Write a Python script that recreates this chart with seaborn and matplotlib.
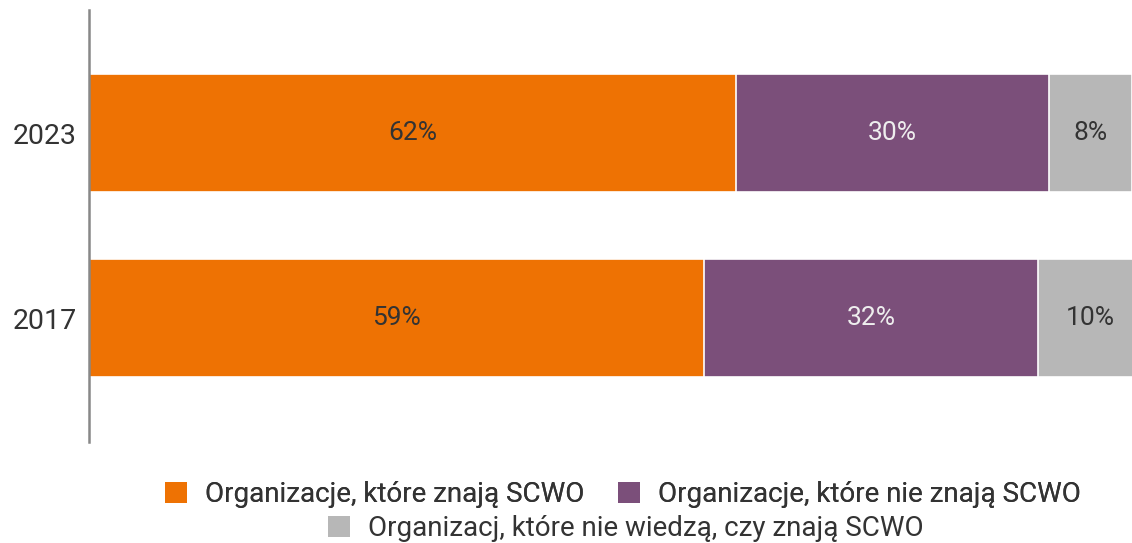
import numpy as np
import pandas as pd
import seaborn as sns
import matplotlib.pyplot as plt
from matplotlib.patches import Patch

years = ["2023", "2017"]
znaja = [62, 59]
nie_znaja = [30, 32]
nie_wiedza = [8, 10]
serie = [
    "Organizacje, które znają SCWO",
    "Organizacje, które nie znają SCWO",
    "Organizacj, które nie wiedzą, czy znają SCWO",
]
kolory = ["#EE7203", "#7B4F7A", "#B7B7B7"]
kolory_tekstu = ["#333333", "#EEEEEE", "#333333"]

sns.set_style("white")
plt.rcParams["font.family"] = ["Roboto", "DejaVu Sans"]

df = pd.DataFrame({"rok": years, "a": znaja, "b": nie_znaja, "c": nie_wiedza})
cum = df[["a", "b", "c"]].cumsum(axis=1)

fig = plt.figure(figsize=(11.32, 5.43), dpi=100)
ax = fig.add_axes([89 / 1132, 1 - 442 / 543, 1 - 89 / 1132, (442 - 10) / 543])

# stacked bars: draw cumulative totals from the widest down
for col, kolor in zip(["c", "b", "a"], kolory[::-1]):
    sns.barplot(x=cum[col], y=df["rok"], orient="h", color=kolor, width=0.64,
                edgecolor="white", linewidth=1.2, ax=ax, saturation=1)

# value labels
for i, row in df.iterrows():
    left = 0
    for col, tc in zip(["a", "b", "c"], kolory_tekstu):
        v = row[col]
        ax.text(left + v / 2, i, f"{v}%", ha="center", va="center",
                fontsize=19, color=tc)
        left += v

ax.set_xlim(0, 100)
ax.set_ylim(1.67, -0.665)
ax.set_xlabel("")
ax.set_ylabel("")
ax.set_xticks([])
ax.tick_params(axis="y", length=0, pad=8.7, labelsize=20.5, labelcolor="#333333")
for s in ["top", "right", "bottom"]:
    ax.spines[s].set_visible(False)
ax.spines["left"].set_color("#888888")
ax.spines["left"].set_linewidth(1.8)

uchwyty = [Patch(facecolor=k, edgecolor="none") for k in kolory]
leg1 = fig.legend(uchwyty[:2], serie[:2], loc="center", bbox_to_anchor=(0.55, 0.089),
                  ncol=2, frameon=False, fontsize=20, handlelength=0.8, handleheight=0.8,
                  handletextpad=0.65, columnspacing=1.2, labelcolor="#333333")
leg2 = fig.legend(uchwyty[2:], serie[2:], loc="center", bbox_to_anchor=(0.553, 0.026),
                  frameon=False, fontsize=20, handlelength=0.8, handleheight=0.8,
                  handletextpad=0.65, labelcolor="#333333")
fig.add_artist(leg1)

fig.savefig("out.png", dpi=100)
